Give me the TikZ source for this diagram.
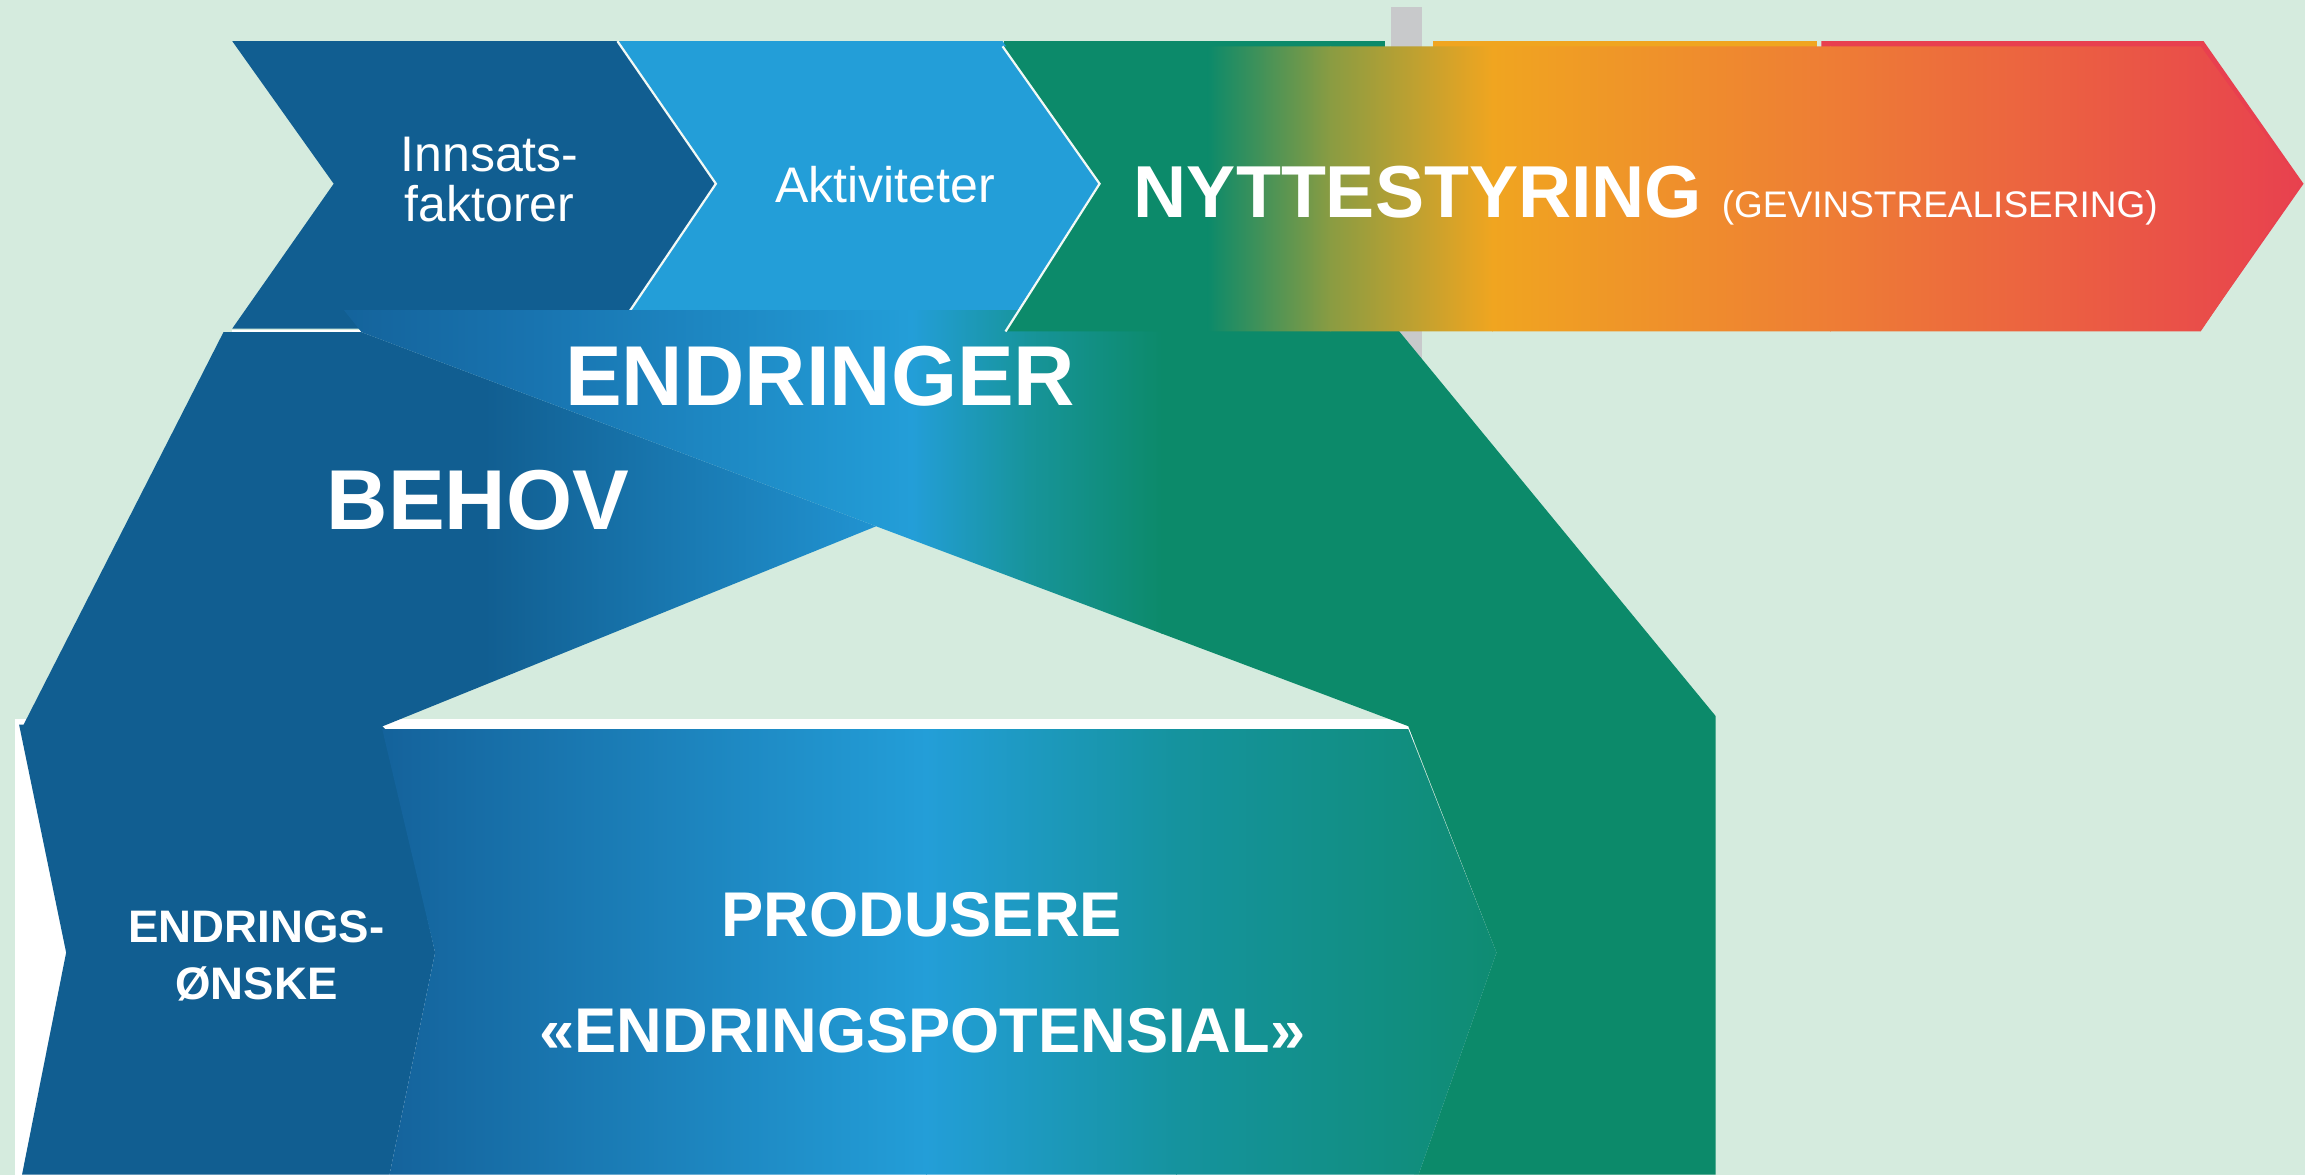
\documentclass[tikz,border=0pt]{standalone}
\usepackage{fontspec}
\setmainfont{Liberation Sans}
\definecolor{bg}{HTML}{D5EBDE}
\definecolor{dkblue}{HTML}{115E91}
\definecolor{ltblue}{HTML}{239ED8}
\definecolor{grn}{HTML}{0C8A6A}
\definecolor{grayc}{HTML}{C8C9CB}
\definecolor{orng}{HTML}{F0A520}
\definecolor{orngb}{HTML}{EE7D35}
\definecolor{rd}{HTML}{E8404F}
\definecolor{olv}{HTML}{8A9C42}
\definecolor{behovR}{HTML}{2194D2}
\definecolor{eA}{HTML}{14639B}
\definecolor{eB}{HTML}{1873AF}
\definecolor{tl}{HTML}{17949A}
\definecolor{pA}{HTML}{14629B}
\definecolor{pC}{HTML}{15939E}
\definecolor{pD}{HTML}{0F8C72}
\begin{document}
\begin{tikzpicture}[x=0.735pt,y=-0.735pt,
  lbl/.style={text=white,inner sep=0pt},
  sep/.style={draw=white!70!bg,line width=1.1pt}]
\fill[bg] (0,0) rectangle (1568,799);
\useasboundingbox (0,0) rectangle (1568,799);

% grey post and shapes peeking behind the result arrow
\fill[grayc] (946,5) rectangle (967,245);
\fill[grn] (683,28) rectangle (942,40);
\fill[orng] (975,28) rectangle (1236,40);
\fill[rd] (1239,28) -- (1499,28) -- (1567,125) -- (1499,222) -- (1239,222) -- cycle;

% top chevrons
\fill[dkblue] (158,28) -- (420,28) -- (487,125) -- (420,223.5) -- (158,223.5) -- (227,125) -- cycle;
\fill[ltblue] (420,28) -- (682,28) -- (748,125) -- (684,224) -- (420,224) -- (487,125) -- cycle;
\draw[sep] (420,28) -- (487,125) -- (420,224);
\draw[white,line width=1.2pt] (158,225) -- (246,225);

% white panel behind the lower chevrons
\fill[white] (10,489) rectangle (962,799);

% BEHOV arm
\begin{scope}
\clip (152,226) -- (246,226) -- (596,358) -- (258,495) -- (14,497) -- cycle;
\fill[dkblue] (0,200) rectangle (330,520);
\shade[left color=dkblue,right color=behovR] (329.5,200) rectangle (600,520);
\end{scope}

% ENDRINGER arm
\begin{scope}
\clip (234,211) -- (940,211) -- (1167,487) -- (1167,799) -- (965,799) -- (1018,648) -- (958,494) -- (596,358) -- (246,226) -- cycle;
\shade[left color=eA,right color=eB] (230,200) rectangle (360.5,800);
\shade[left color=eB,right color=ltblue] (360,200) rectangle (620.5,800);
\shade[left color=ltblue,right color=tl] (620,200) rectangle (700.5,800);
\shade[left color=tl,right color=grn] (700,200) rectangle (790.5,800);
\fill[grn] (790,200) rectangle (1170,800);
\end{scope}

% lower chevrons
\fill[dkblue] (13,493) -- (259,493) -- (262,496) -- (296,648) -- (265,799) -- (15,799) -- (45,648) -- cycle;
\begin{scope}
\clip (260,496) -- (958,496) -- (1018,648) -- (965,799) -- (265,799) -- (296,648) -- cycle;
\shade[left color=pA,right color=ltblue] (258,490) rectangle (630.5,800);
\shade[left color=ltblue,right color=pC] (630,490) rectangle (800.5,800);
\shade[left color=pC,right color=pD] (800,490) rectangle (1020,800);
\end{scope}

% result chevron
\begin{scope}
\clip (682,31.5) -- (1497,31.5) -- (1565,125) -- (1497,225.5) -- (684,225.5) -- (748,125) -- cycle;
\fill[grn] (680,25) rectangle (822,230);
\shade[left color=grn,right color=olv] (821.5,25) rectangle (905.5,230);
\shade[left color=olv,right color=orng] (905,25) rectangle (1015.5,230);
\shade[left color=orng,right color=orngb] (1015,25) rectangle (1245.5,230);
\shade[left color=orngb,right color=rd] (1245,25) rectangle (1570,230);
\end{scope}
\draw[sep] (682,31.5) -- (748,125) -- (684,225.5);

% texts
\node[lbl,anchor=base,font=\fontsize{25}{25}\selectfont] (inn1) at (333,117) {Innsats-};
\node[lbl,anchor=base,font=\fontsize{25}{25}\selectfont] (inn2) at (333,151) {faktorer};
\node[lbl,anchor=base,font=\fontsize{25}{25}\selectfont] (akt) at (602,137.5) {Aktiviteter};
\node[lbl,anchor=base west,font=\bfseries\fontsize{36.8}{36.8}\selectfont] (nyt) at (771,148) {NYTTESTYRING};
\node[lbl,anchor=base west,font=\fontsize{18.5}{18.5}\selectfont] (gev) at (1171,148) {(GEVINSTREALISERING)};
\node[lbl,anchor=base,font=\bfseries\fontsize{42.5}{42.5}\selectfont] (endr) at (558,276) {ENDRINGER};
\node[lbl,anchor=base west,font=\bfseries\fontsize{42.5}{42.5}\selectfont] (behov) at (222,360) {BEHOV};
\node[lbl,anchor=base,font=\bfseries\fontsize{22.8}{22.8}\selectfont] (eo1) at (174.5,641) {ENDRINGS-};
\node[lbl,anchor=base,font=\bfseries\fontsize{22.8}{22.8}\selectfont] (eo2) at (174.5,680) {ØNSKE};
\node[lbl,anchor=base,font=\bfseries\fontsize{31.6}{31.6}\selectfont] (prod1) at (627,637) {PRODUSERE};
\node[lbl,anchor=base,font=\bfseries\fontsize{31.6}{31.6}\selectfont] (prod2) at (627.5,716) {«ENDRINGSPOTENSIAL»};
\end{tikzpicture}
\end{document}
